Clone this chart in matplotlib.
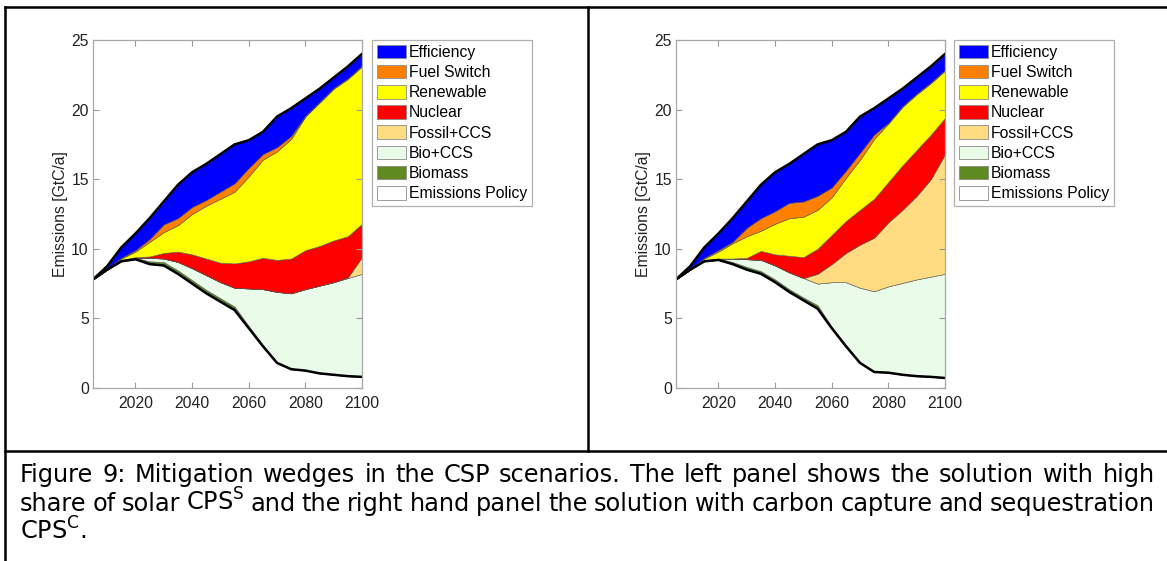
import numpy as np
import matplotlib
matplotlib.use("Agg")
import matplotlib.pyplot as plt
from matplotlib.patches import Patch
from matplotlib.lines import Line2D

W, H = 1167, 561

years = list(range(2005, 2101, 5))

# layer tops, bottom to top (GtC/a)
total = [7.8, 8.75, 10.1, 11.1, 12.2, 13.4, 14.6, 15.5, 16.1, 16.8,
         17.5, 17.8, 18.4, 19.5, 20.1, 20.8, 21.5, 22.3, 23.1, 24.0]

# left panel (solar CPS^S)
policy_L = [7.8, 8.5, 9.1, 9.25, 8.9, 8.8, 8.2, 7.5, 6.8, 6.2,
            5.6, 4.3, 3.0, 1.8, 1.35, 1.25, 1.05, 0.95, 0.85, 0.8]
biomass_L = [7.8, 8.5, 9.15, 9.35, 9.1, 9.05, 8.45, 7.75, 7.05, 6.45,
             5.85, 4.45, 3.1, 1.85, 1.4, 1.3, 1.1, 1.0, 0.9, 0.85]
bioccs_L = [7.8, 8.5, 9.15, 9.35, 9.35, 9.3, 9.05, 8.6, 8.1, 7.6,
            7.2, 7.15, 7.1, 6.9, 6.8, 7.1, 7.35, 7.6, 7.9, 8.2]
fossil_L = [7.8, 8.5, 9.15, 9.35, 9.35, 9.3, 9.05, 8.6, 8.1, 7.6,
            7.2, 7.15, 7.1, 6.9, 6.8, 7.1, 7.35, 7.6, 7.95, 9.4]
nuclear_L = [7.8, 8.5, 9.2, 9.4, 9.45, 9.7, 9.8, 9.6, 9.3, 9.0,
             8.95, 9.1, 9.35, 9.2, 9.3, 9.9, 10.2, 10.6, 10.9, 11.8]
renew_L = [7.8, 8.55, 9.3, 9.8, 10.5, 11.2, 11.7, 12.5, 13.1, 13.6,
           14.1, 15.2, 16.4, 17.0, 17.9, 19.5, 20.5, 21.5, 22.2, 23.1]
fuel_L = [7.8, 8.6, 9.35, 9.9, 10.7, 11.75, 12.2, 13.0, 13.5, 14.1,
          14.7, 15.8, 16.8, 17.3, 18.1, 19.55, 20.55, 21.55, 22.25, 23.15]

# right panel (carbon capture CPS^C)
policy_R = [7.8, 8.5, 9.1, 9.2, 8.9, 8.5, 8.2, 7.6, 6.9, 6.3,
            5.7, 4.3, 3.0, 1.8, 1.15, 1.1, 0.95, 0.85, 0.8, 0.72]
biomass_R = [7.8, 8.5, 9.15, 9.3, 9.05, 8.7, 8.4, 7.8, 7.1, 6.5,
             5.95, 4.4, 3.1, 1.85, 1.2, 1.15, 1.0, 0.9, 0.85, 0.77]
bioccs_R = [7.8, 8.5, 9.15, 9.3, 9.3, 9.25, 9.2, 8.8, 8.3, 7.9,
            7.5, 7.6, 7.6, 7.2, 6.95, 7.3, 7.55, 7.8, 8.0, 8.2]
fossil_R = [7.8, 8.5, 9.15, 9.3, 9.3, 9.25, 9.2, 8.8, 8.3, 7.9,
            8.2, 8.9, 9.7, 10.3, 10.8, 11.9, 12.8, 13.8, 15.0, 16.8]
nuclear_R = [7.8, 8.5, 9.2, 9.3, 9.3, 9.35, 9.85, 9.6, 9.5, 9.4,
             10.0, 11.0, 12.0, 12.8, 13.6, 14.8, 16.0, 17.1, 18.2, 19.4]
renew_R = [7.8, 8.55, 9.3, 9.8, 10.4, 10.9, 11.3, 11.8, 12.2, 12.3,
           12.8, 13.7, 15.1, 16.4, 17.9, 19.0, 20.2, 21.1, 21.9, 22.8]
fuel_R = [7.8, 8.6, 9.35, 9.9, 10.5, 11.5, 12.2, 12.7, 13.3, 13.4,
          13.8, 14.4, 15.6, 16.9, 18.2, 19.05, 20.25, 21.15, 21.95, 22.85]

labels = ["Efficiency", "Fuel Switch", "Renewable", "Nuclear",
          "Fossil+CCS", "Bio+CCS", "Biomass", "Emissions Policy"]
colors = ["#0000ff", "#ff7f00", "#ffff00", "#ff0000",
          "#ffdc82", "#eafbea", "#5f8a22", "#ffffff"]

caption_lines = [
    ["Figure", "9:", "Mitigation", "wedges", "in", "the", "CSP", "scenarios.", "The",
     "left", "panel", "shows", "the", "solution", "with", "high"],
    ["share", "of", "solar", r"CPS$^\mathregular{S}$", "and", "the", "right", "hand",
     "panel", "the", "solution", "with", "carbon", "capture", "and", "sequestration"],
    [r"CPS$^\mathregular{C}$."],
]

plt.rcParams["font.family"] = ["Liberation Sans", "DejaVu Sans"]

fig = plt.figure(figsize=(W / 100, H / 100), dpi=100)


def panel(left_px, layers, leg_px):
    ax = fig.add_axes([left_px / W, 1 - 388 / H, 269 / W, 348 / H])
    x = np.array(years)
    bottoms = [np.zeros(len(x))] + [np.array(l) for l in layers[:-1]]
    tops = [np.array(l) for l in layers]
    # layers are given bottom->top, colours are top->bottom
    cols = colors[::-1]
    for lo, hi, c in zip(bottoms, tops, cols):
        ax.fill_between(x, lo, hi, facecolor=c, edgecolor="#555555", linewidth=0.4)
    ax.plot(x, layers[0], color="black", lw=1.8)
    ax.plot(x, layers[-1], color="black", lw=1.8)
    ax.set_xlim(2005, 2100)
    ax.set_ylim(0, 25)
    ax.set_xticks([2020, 2040, 2060, 2080, 2100])
    ax.set_yticks([0, 5, 10, 15, 20, 25])
    ax.tick_params(direction="in", top=True, right=True, length=4, width=0.8,
                   color="#999999", labelsize=11.3, labelcolor="#222222", pad=3)
    ax.tick_params(axis="x", pad=6)
    for s in ax.spines.values():
        s.set_color("#a8a8a8")
        s.set_linewidth(0.9)
    ax.set_ylabel("Emissions [GtC/a]", fontsize=11.3, color="#222222", labelpad=2)
    handles = [Patch(facecolor=c, edgecolor="#8a8a8a", linewidth=0.6) for c in colors]
    leg = ax.legend(handles, labels, loc="upper left",
                    bbox_to_anchor=(leg_px / W, 1 - 40 / H), bbox_transform=fig.transFigure,
                    borderaxespad=0, fontsize=11.3, handlelength=1.85, handleheight=0.95,
                    handletextpad=0.2, labelspacing=0.32, borderpad=0.3,
                    fancybox=False, framealpha=1, edgecolor="#b0b0b0")
    leg.get_frame().set_linewidth(0.9)
    return ax


panel(93, [policy_L, biomass_L, bioccs_L, fossil_L, nuclear_L, renew_L, fuel_L, total], 372)
panel(676, [policy_R, biomass_R, bioccs_R, fossil_R, nuclear_R, renew_R, fuel_R, total], 954)

# table borders
def fline(x0, y0, x1, y1):
    fig.add_artist(Line2D([x0 / W, x1 / W], [1 - y0 / H, 1 - y1 / H],
                          color="black", lw=1.8, transform=fig.transFigure))

fline(5, 7, W, 7)
fline(5, 7, 5, H)
fline(588, 7, 588, 451)
fline(5, 451, W, 451)

# justified caption
fig.canvas.draw()
renderer = fig.canvas.get_renderer()
x_left, x_right = 20, 1155
baselines = [482, 511, 540]
cap_size = 17.3


def measure(size):
    out = []
    for words in caption_lines:
        ts = [fig.text(0, 0, w, fontsize=size, family="DejaVu Sans", color="black",
                       va="baseline", ha="left") for w in words]
        out.append((ts, [t.get_window_extent(renderer).width for t in ts]))
    return out


lines = measure(cap_size)
# shrink if a justified line would need gaps below a normal space
need = max(sum(w) + 6 * (len(w) - 1) for _, w in lines[:-1])
if need > x_right - x_left:
    for ts, _ in lines:
        for t in ts:
            t.remove()
    cap_size *= (x_right - x_left) / need
    lines = measure(cap_size)

for i, (texts, widths) in enumerate(lines):
    if i < len(lines) - 1 and len(texts) > 1:
        gap = (x_right - x_left - sum(widths)) / (len(texts) - 1)
    else:
        gap = 6
    xpos = x_left
    for t, w in zip(texts, widths):
        t.set_position((xpos / W, 1 - baselines[i] / H))
        xpos += w + gap

fig.savefig("out.png", dpi=100)
